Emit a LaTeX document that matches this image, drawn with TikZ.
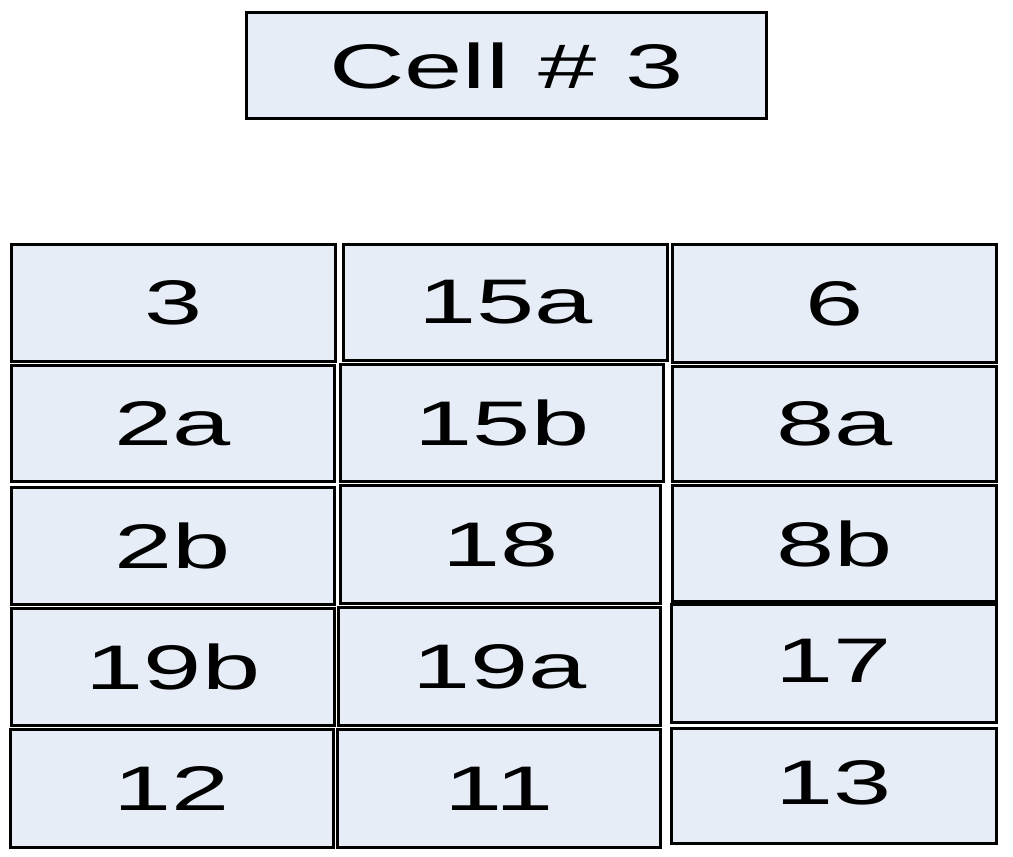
\documentclass[tikz,border=0pt]{standalone}
\usepackage{graphicx}
\usepackage{fontspec}
\setmainfont{Liberation Sans}
\definecolor{cellfill}{RGB}{230,237,247}
\newcommand\widetext[1]{\scalebox{1.66}[1]{#1}}
\begin{document}
\begin{tikzpicture}[x=1pt,y=-1pt,
  cellbox/.style={draw=black, fill=cellfill, line width=3.4pt, inner sep=0pt,
    font=\fontsize{63}{68}\selectfont}]
\useasboundingbox (0,0) rectangle (1013,857);
\node[cellbox, minimum width=520pt, minimum height=106pt] (title) at (506.5,65.5) {\widetext{Cell \# 3}};
% column 1
\node[cellbox, minimum width=324pt, minimum height=117pt] (c3)   at (173.5,303)   {\widetext{3}};
\node[cellbox, minimum width=323pt, minimum height=116pt] (c2a)  at (173,423.5)   {\widetext{2a}};
\node[cellbox, minimum width=323pt, minimum height=117pt] (c2b)  at (173,546)     {\widetext{2b}};
\node[cellbox, minimum width=323pt, minimum height=117pt] (c19b) at (173,667)     {\widetext{19b}};
\node[cellbox, minimum width=323pt, minimum height=118pt] (c12)  at (172,788.5)   {\widetext{12}};
% column 2
\node[cellbox, minimum width=324pt, minimum height=116pt] (c15a) at (505.5,302.5) {\widetext{15a}};
\node[cellbox, minimum width=323pt, minimum height=117pt] (c15b) at (502,423)     {\widetext{15b}};
\node[cellbox, minimum width=320pt, minimum height=118pt] (c18)  at (500.5,544.5) {\widetext{18}};
\node[cellbox, minimum width=322pt, minimum height=118pt] (c19a) at (499.5,666.5) {\widetext{19a}};
\node[cellbox, minimum width=323pt, minimum height=118pt] (c11)  at (499,788.5)   {\widetext{11}};
% column 3
\node[cellbox, minimum width=324pt, minimum height=118pt] (c6)   at (834.5,303.5) {\widetext{6}};
\node[cellbox, minimum width=324pt, minimum height=115pt] (c8a)  at (834.5,424)   {\widetext{8a}};
\node[cellbox, minimum width=324pt, minimum height=116pt] (c8b)  at (834.5,543.5) {\widetext{8b}};
\node[cellbox, minimum width=325pt, minimum height=118pt, text depth=6pt] (c17) at (834,663.5) {\widetext{17}};
\node[cellbox, minimum width=325pt, minimum height=115pt, text depth=8pt] (c13) at (834,786) {\widetext{13}};
\end{tikzpicture}
\end{document}
